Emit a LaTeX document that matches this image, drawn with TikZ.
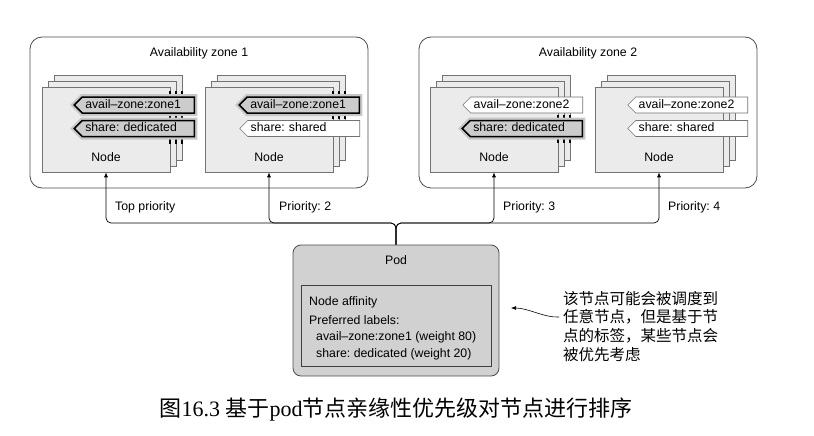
\documentclass[tikz,border=0pt]{standalone}
\usepackage{fontspec}
\setmainfont{Liberation Sans}
\newfontfamily\cjk{Noto Sans CJK SC}
\newfontfamily\capfont{Liberation Serif}
\usetikzlibrary{shapes.symbols,arrows.meta}
\frenchspacing

\begin{document}
\begin{tikzpicture}[x=1pt, y=-1pt,
  every node/.style={font=\fontsize{12.3}{14}\selectfont, inner sep=0pt},
  zone/.style={draw=black!70, line width=0.8pt, rounded corners=12pt, minimum width=338pt, minimum height=151pt},
  card/.style={draw=black!55, fill=black!8, line width=0.6pt, minimum width=128pt, minimum height=85pt},
  tagw/.style={shape=signal, signal to=west, signal pointer angle=90, draw=black!55, fill=white, line width=0.6pt,
    text width=106pt, align=left, text height=8.5pt, text depth=2.5pt, inner xsep=3pt, inner ysep=2.5pt, anchor=east},
  tagg/.style={tagw, draw=black, fill=black!20, line width=1.5pt, preaction={draw=black!22, line width=6pt}},
  bar/.style={black, line width=1.2pt},
  bus/.style={line width=0.7pt, rounded corners=5pt, -{Latex[length=5pt,width=4pt]}}]

\useasboundingbox (0,0) rectangle (814,436);

\node[zone] (zone1) at (199,112.5) {};
\node[zone] (zone2) at (588,112.5) {};
\node (zt1) at (199,53) {Availability zone 1};
\node (zt2) at (588,53) {Availability zone 2};

\node[card] (z1n1c) at (118,117.5) {};
\node[card] (z1n1b) at (112,123.5) {};
\node[card] (z1n1) at (106,129.5) {};
\node[card] (z1n2c) at (281,117.5) {};
\node[card] (z1n2b) at (275,123.5) {};
\node[card] (z1n2) at (269,129.5) {};
\node[card] (z2n1c) at (506,117.5) {};
\node[card] (z2n1b) at (500,123.5) {};
\node[card] (z2n1) at (494,129.5) {};
\node[card] (z2n2c) at (671,117.5) {};
\node[card] (z2n2b) at (665,123.5) {};
\node[card] (z2n2) at (659,129.5) {};

\draw[bar] (170,91) -- (170,144) (176,91) -- (176,144) (182,91) -- (182,144);
\draw[bar] (333,91) -- (333,119) (339,91) -- (339,119) (345,91) -- (345,119);
\draw[bar] (558,115) -- (558,143) (564,115) -- (564,143) (570,115) -- (570,143);

\node[tagg] (t11a) at (195,105) {avail–zone:zone1};
\node[tagg] (t11b) at (195,128.5) {share: dedicated};
\node[tagg] (t12a) at (360,105) {avail–zone:zone1};
\node[tagw] (t12b) at (360,128.5) {share: shared};
\node[tagw] (t21a) at (583,105) {avail–zone:zone2};
\node[tagg] (t21b) at (583,128.5) {share: dedicated};
\node[tagw] (t22a) at (748,105) {avail–zone:zone2};
\node[tagw] (t22b) at (748,128.5) {share: shared};

\node (l11) at (106,157) {Node};
\node (l12) at (269,157) {Node};
\node (l21) at (494,157) {Node};
\node (l22) at (659,157) {Node};

\node[draw=black!70, fill=black!18, rounded corners=8pt, line width=0.8pt, minimum width=206pt, minimum height=131pt] (pod) at (396,310.5) {};
\node (podt) at (396,260) {Pod};
\node[draw=black!75, fill=black!18, line width=0.9pt, minimum width=190pt, minimum height=81pt] (aff) at (396,325.5) {};
\node[anchor=north west, align=left, font=\fontsize{12.3}{16.5}\selectfont] (afft) at (309,296)
  {Node affinity\\[2.5pt]Preferred labels:\\\hspace*{7pt}avail–zone:zone1 (weight 80)\\\hspace*{7pt}share: dedicated (weight 20)};

\coordinate (bus) at (396,223);
\draw[bus] (pod.north) |- (bus -| z1n1.south) -- (z1n1.south);
\draw[bus] (pod.north) |- (bus -| z1n2.south) -- (z1n2.south);
\draw[bus] (pod.north) |- (bus -| z2n1.south) -- (z2n1.south);
\draw[bus] (pod.north) |- (bus -| z2n2.south) -- (z2n2.south);
\node[anchor=west] (p1) at (115,207) {Top priority};
\node[anchor=west] (p2) at (279,207) {Priority: 2};
\node[anchor=west] (p3) at (503,207) {Priority: 3};
\node[anchor=west] (p4) at (668,207) {Priority: 4};

\node[anchor=north west, align=left, font=\cjk\fontsize{15.5}{18.6}\selectfont] (note) at (563,291)
  {该节点可能会被调度到\\任意节点，但是基于节\\点的标签，某些节点会\\被优先考虑};
\coordinate (from) at (559,317);
\coordinate (tip) at (511,308);
\draw[line width=0.6pt, -{Latex[length=5pt,width=4pt]}] (from) .. controls (545,318) and (528,308) .. (tip);

\node[font=\fontsize{22}{24}\selectfont] (cap) at (396,410)
  {\cjk 图\capfont 16.3 \cjk 基于\capfont pod\cjk 节点亲缘性优先级对节点进行排序};
\end{tikzpicture}
\end{document}
